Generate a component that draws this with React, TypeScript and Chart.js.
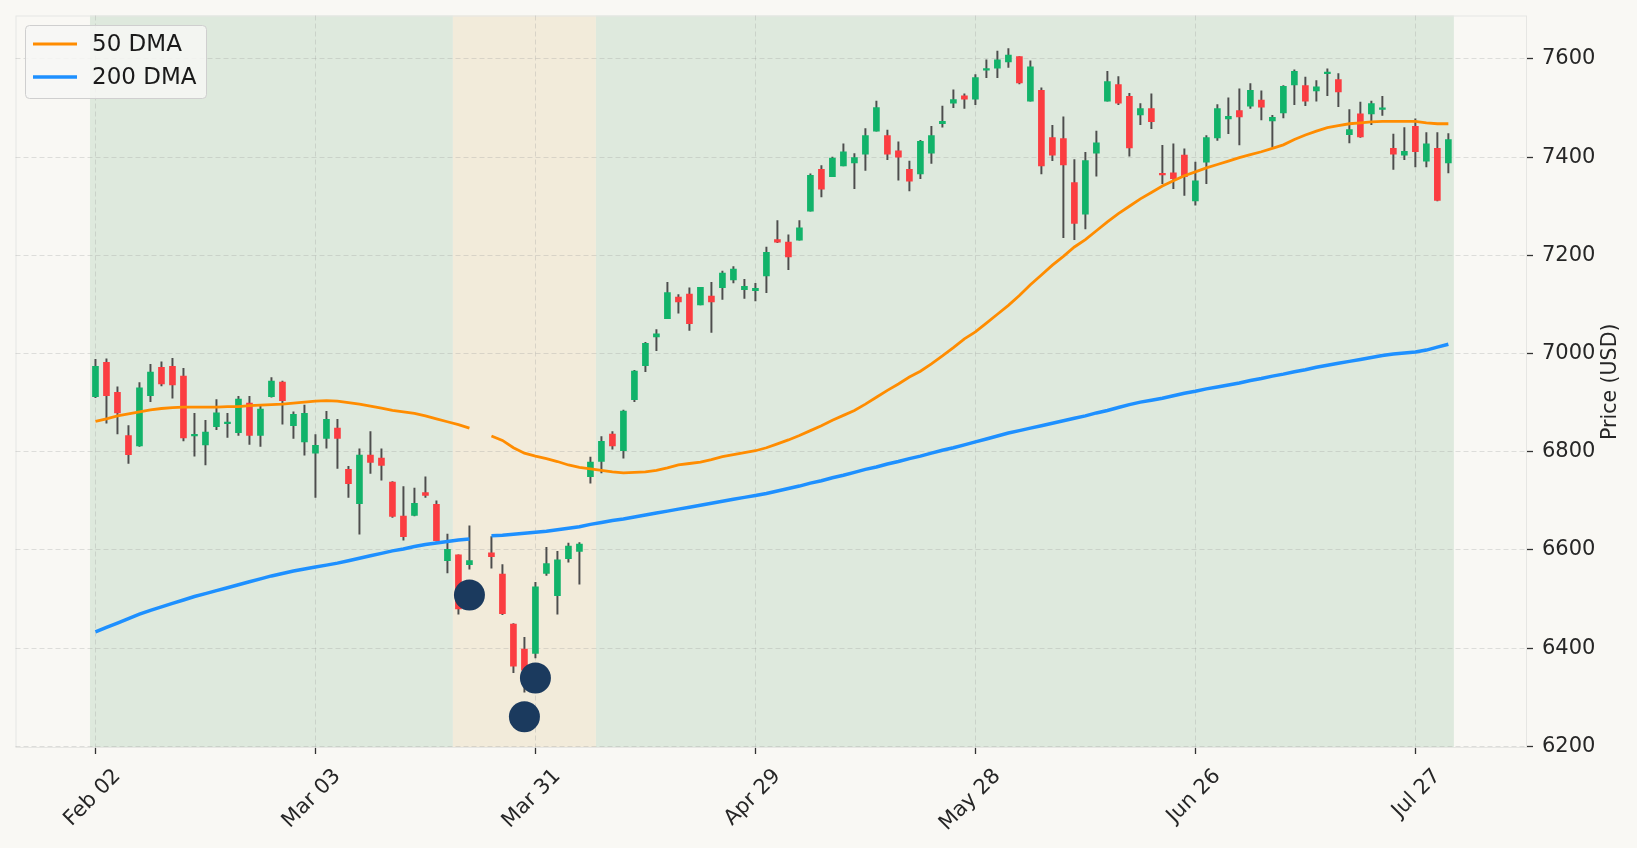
import { useEffect, useRef } from "react";
import { Chart, registerables } from "chart.js";

Chart.register(...registerables);

// trading-day index → tick label
const tickIndex = [0, 20, 40, 60, 80, 100, 120];
const tickLabels = ["Feb 02", "Mar 03", "Mar 31", "Apr 29", "May 28", "Jun 26", "Jul 27"];
const priceTicks = [6200, 6400, 6600, 6800, 7000, 7200, 7400, 7600];

// OHLC per trading day (index 35 has no data)
const opens = [
  6912, 6982, 6921, 6833, 6812, 6914, 6972, 6974, 6954, 6832,
  6814, 6851, 6857, 6839, 6899, 6833, 6912, 6942, 6853, 6820,
  6797, 6827, 6848, 6764, 6694, 6793, 6787, 6738, 6669, 6670,
  6717, 6693, 6578, 6590, 6570, null, 6594, 6551, 6449, 6398,
  6389, 6552, 6507, 6582, 6597, 6749, 6780, 6836, 6802, 6906,
  6975, 7034, 7071, 7115, 7121, 7099, 7117, 7134, 7150, 7130,
  7128, 7158, 7232, 7227, 7231, 7290, 7375, 7360, 7382, 7388,
  7406, 7453, 7444, 7413, 7375, 7366, 7408, 7468, 7510, 7525,
  7518, 7577, 7581, 7594, 7605, 7514, 7536, 7440, 7438, 7348,
  7284, 7408, 7514, 7548, 7524, 7486, 7499, 7366, 7368, 7404,
  7311, 7390, 7439, 7478, 7495, 7504, 7516, 7474, 7490, 7547,
  7546, 7535, 7570, 7558, 7446, 7488, 7488, 7497, 7418, 7404,
  7463, 7392, 7418, 7388,
];
const highs = [
  6988, 6989, 6932, 6853, 6941, 6978, 6983, 6990, 6970, 6878,
  6864, 6906, 6878, 6913, 6913, 6895, 6951, 6944, 6881, 6895,
  6835, 6882, 6866, 6770, 6806, 6841, 6806, 6739, 6729, 6726,
  6749, 6700, 6632, 6590, 6649, null, 6627, 6570, 6450, 6422,
  6534, 6605, 6597, 6614, 6615, 6789, 6831, 6841, 6885, 6966,
  7023, 7049, 7145, 7120, 7134, 7135, 7145, 7168, 7177, 7151,
  7143, 7217, 7271, 7242, 7271, 7366, 7383, 7400, 7427, 7407,
  7458, 7514, 7455, 7431, 7392, 7434, 7463, 7504, 7537, 7529,
  7568, 7598, 7616, 7621, 7605, 7596, 7541, 7465, 7482, 7395,
  7410, 7453, 7575, 7564, 7530, 7509, 7529, 7424, 7427, 7417,
  7390, 7444, 7507, 7521, 7539, 7550, 7535, 7485, 7546, 7578,
  7563, 7556, 7580, 7570, 7497, 7512, 7514, 7524, 7447, 7460,
  7478, 7450, 7450, 7448,
];
const lows = [
  6910, 6858, 6836, 6776, 6811, 6902, 6934, 6909, 6822, 6791,
  6773, 6845, 6829, 6833, 6815, 6811, 6911, 6856, 6827, 6793,
  6707, 6807, 6766, 6707, 6632, 6756, 6742, 6666, 6620, 6669,
  6707, 6618, 6553, 6469, 6561, null, 6563, 6468, 6350, 6310,
  6380, 6548, 6469, 6575, 6530, 6736, 6757, 6805, 6787, 6902,
  6963, 7006, 7071, 7082, 7047, 7099, 7043, 7110, 7144, 7112,
  7107, 7124, 7226, 7171, 7231, 7290, 7319, 7360, 7382, 7336,
  7373, 7453, 7395, 7353, 7331, 7356, 7387, 7461, 7501, 7499,
  7507, 7562, 7562, 7583, 7549, 7514, 7366, 7393, 7236, 7232,
  7254, 7361, 7514, 7507, 7402, 7466, 7458, 7346, 7336, 7322,
  7302, 7346, 7434, 7448, 7425, 7499, 7476, 7421, 7480, 7507,
  7505, 7514, 7525, 7503, 7429, 7440, 7466, 7485, 7375, 7395,
  7380, 7380, 7311, 7368,
];
const closes = [
  6974, 6914, 6879, 6794, 6930, 6962, 6938, 6936, 6828, 6833,
  6840, 6879, 6858, 6907, 6833, 6887, 6944, 6904, 6876, 6878,
  6813, 6866, 6827, 6735, 6793, 6778, 6772, 6668, 6627, 6695,
  6711, 6619, 6601, 6480, 6578, null, 6586, 6470, 6363, 6355,
  6525, 6572, 6580, 6608, 6612, 6779, 6821, 6812, 6883, 6964,
  7021, 7040, 7124, 7105, 7061, 7135, 7105, 7164, 7172, 7137,
  7133, 7206, 7227, 7197, 7256, 7363, 7335, 7398, 7411, 7399,
  7444, 7501, 7406, 7400, 7351, 7432, 7444, 7473, 7517, 7518,
  7562, 7578, 7598, 7608, 7551, 7584, 7382, 7404, 7384, 7265,
  7393, 7429, 7554, 7510, 7419, 7499, 7472, 7364, 7356, 7360,
  7352, 7440, 7499, 7483, 7482, 7536, 7502, 7481, 7544, 7575,
  7514, 7543, 7572, 7533, 7456, 7441, 7509, 7498, 7406, 7412,
  7411, 7427, 7312, 7436,
];

const dma50 = [
  6862, 6867, 6873, 6877, 6881, 6885, 6888, 6890, 6891, 6891,
  6891, 6891, 6892, 6892, 6894, 6895, 6896, 6897, 6899, 6901,
  6903, 6904, 6903, 6900, 6897, 6893, 6889, 6884, 6881, 6878,
  6873, 6867, 6861, 6855, 6848, null, 6832, 6823, 6808, 6797,
  6791, 6786, 6780, 6773, 6768, 6765, 6762, 6759, 6757, 6758,
  6759, 6762, 6767, 6773, 6776, 6779, 6784, 6790, 6794, 6798,
  6802, 6808, 6816, 6824, 6833, 6843, 6853, 6864, 6874, 6884,
  6897, 6911, 6925, 6938, 6952, 6964, 6979, 6995, 7012, 7030,
  7044, 7062, 7080, 7098, 7118, 7140, 7160, 7180, 7198, 7217,
  7232, 7250, 7268, 7285, 7300, 7315, 7328, 7341, 7352, 7362,
  7370, 7378, 7385, 7392, 7399, 7405, 7411, 7418, 7425, 7436,
  7445, 7453, 7460, 7464, 7468, 7470, 7472, 7473, 7473, 7473,
  7473, 7470, 7468, 7468,
];
const dma200 = [
  6433, 6442, 6451, 6460, 6469, 6477, 6484, 6491, 6498, 6505,
  6511, 6517, 6523, 6529, 6535, 6541, 6547, 6552, 6557, 6561,
  6565, 6569, 6573, 6578, 6583, 6588, 6593, 6598, 6602, 6607,
  6611, 6614, 6617, 6620, 6622, null, 6629, 6630, 6632, 6634,
  6636, 6638, 6641, 6644, 6647, 6652, 6656, 6660, 6663, 6667,
  6671, 6675, 6679, 6683, 6687, 6691, 6695, 6699, 6703, 6707,
  6711, 6715, 6720, 6725, 6730, 6736, 6741, 6747, 6752, 6758,
  6764, 6769, 6775, 6780, 6786, 6791, 6797, 6803, 6808, 6814,
  6820, 6826, 6832, 6838, 6843, 6848, 6853, 6858, 6863, 6868,
  6873, 6879, 6884, 6890, 6896, 6901, 6905, 6909, 6914, 6919,
  6923, 6928, 6932, 6936, 6940, 6945, 6949, 6954, 6958, 6963,
  6967, 6972, 6976, 6980, 6984, 6988, 6992, 6996, 6999, 7001,
  7003, 7007, 7013, 7019,
];

// signal markers
const markerIndex = [34, 40, 39];
const markerPrice = [6508, 6339, 6260];

// regime bands (trading-day index bounds)
const bandFrom = [-0.5, 32.5, 45.5];
const bandTo = [32.5, 45.5, 123.5];
const bandKind = ["up", "down", "up"];

const X_MIN = -7.27;
const X_MAX = 130.15;
const Y_MIN = 6196.5;
const Y_MAX = 7688.5;

const PAGE_BG = "#f9f8f4";
const BAND_COLORS: Record<string, string> = { up: "#dee9dd", down: "#f2ebda" };
const UP = "#12b36a";
const DOWN = "#fb3d41";
const FONT = "'DejaVu Sans', sans-serif";

const backdrop = {
  id: "backdrop",
  beforeDraw(chart: any) {
    const { ctx, chartArea, scales } = chart;
    ctx.save();
    ctx.fillStyle = PAGE_BG;
    ctx.fillRect(0, 0, chart.width, chart.height);
    bandFrom.forEach((from, k) => {
      const x0 = scales.x.getPixelForValue(from);
      const x1 = scales.x.getPixelForValue(bandTo[k]);
      ctx.fillStyle = BAND_COLORS[bandKind[k]];
      ctx.fillRect(x0, chartArea.top, x1 - x0, chartArea.bottom - chartArea.top);
    });
    ctx.strokeStyle = "#e6e6e3";
    ctx.lineWidth = 1;
    ctx.strokeRect(chartArea.left + 0.5, chartArea.top + 0.5, chartArea.right - chartArea.left - 1, chartArea.bottom - chartArea.top - 1);
    ctx.restore();
  },
  afterDraw(chart: any) {
    const { ctx, chartArea } = chart;
    ctx.save();
    // legend box
    const lx = 25, ly = 25, lw = 181, lh = 73;
    ctx.beginPath();
    ctx.roundRect(lx + 0.5, ly + 0.5, lw, lh, 4);
    ctx.fillStyle = "rgba(247,247,244,0.85)";
    ctx.fill();
    ctx.strokeStyle = "#cfcfcf";
    ctx.lineWidth = 1;
    ctx.stroke();
    const entries = [
      { label: "50 DMA", color: "#ff8c00", width: 2.8, y: 44 },
      { label: "200 DMA", color: "#1e90ff", width: 3.5, y: 77 },
    ];
    ctx.font = `23px ${FONT}`;
    ctx.textBaseline = "middle";
    ctx.textAlign = "left";
    entries.forEach((e) => {
      ctx.beginPath();
      ctx.moveTo(33, e.y);
      ctx.lineTo(77, e.y);
      ctx.strokeStyle = e.color;
      ctx.lineWidth = e.width;
      ctx.stroke();
      ctx.fillStyle = "#1a1a1a";
      ctx.fillText(e.label, 92, e.y + 1);
    });
    // y axis title, reading bottom to top
    ctx.translate(1611, (chartArea.top + chartArea.bottom) / 2);
    ctx.rotate(-Math.PI / 2);
    ctx.textAlign = "center";
    ctx.font = `20.5px ${FONT}`;
    ctx.fillStyle = "#262626";
    ctx.fillText("Price (USD)", 0, 0);
    ctx.restore();
  },
};

const noPad = (s: any) => {
  s.paddingTop = 0;
  s.paddingBottom = 0;
  s.paddingLeft = 0;
  s.paddingRight = 0;
};

export default function App() {
  const canvasRef = useRef<HTMLCanvasElement>(null);
  const chartRef = useRef<Chart | null>(null);

  useEffect(() => {
    if (!canvasRef.current) return;
    if (chartRef.current) chartRef.current.destroy();

    const idx = opens.map((_, i) => i).filter((i) => opens[i] !== null);
    const wicks = idx.map((i) => ({ x: i, y: [lows[i], highs[i]] }));
    const bodies = idx.map((i) => ({ x: i, y: [opens[i], closes[i]] }));
    const bodyColors = idx.map((i) => ((closes[i] as number) >= (opens[i] as number) ? UP : DOWN));
    const line50 = dma50.map((v, i) => ({ x: i, y: v }));
    const line200 = dma200.map((v, i) => ({ x: i, y: v }));
    const markers = markerIndex.map((x, k) => ({ x, y: markerPrice[k] }));

    const gridStyle = {
      color: "rgba(150,150,150,0.28)",
      lineWidth: 1,
      offset: false,
      tickColor: "#333333",
      tickLength: 6,
      tickWidth: 1.3,
      tickBorderDash: [],
    };

    chartRef.current = new Chart(canvasRef.current, {
      type: "bar",
      data: {
        datasets: [
          {
            type: "bar",
            data: wicks as any,
            backgroundColor: "#4d4d4d",
            barThickness: 1.3,
            grouped: false,
            borderWidth: 0,
            order: 4,
          },
          {
            type: "bar",
            data: bodies as any,
            backgroundColor: bodyColors,
            barThickness: 6,
            grouped: false,
            borderWidth: 0,
            borderSkipped: false,
            minBarLength: 1.6,
            order: 3,
          },
          {
            type: "line",
            data: line50 as any,
            borderColor: "#ff8c00",
            borderWidth: 2.8,
            pointRadius: 0,
            spanGaps: false,
            tension: 0,
            order: 2,
          },
          {
            type: "line",
            data: line200 as any,
            borderColor: "#1e90ff",
            borderWidth: 3.5,
            pointRadius: 0,
            spanGaps: false,
            tension: 0,
            order: 1,
          },
          {
            type: "line",
            data: markers as any,
            showLine: false,
            pointRadius: 15.5,
            pointBackgroundColor: "#1b3a5e",
            pointBorderWidth: 0,
            order: 0,
          },
        ],
      },
      options: {
        animation: false,
        responsive: false,
        events: [],
        layout: { padding: { left: 15, top: 15, right: 0, bottom: 0 } },
        plugins: { legend: { display: false }, tooltip: { enabled: false } },
        scales: {
          x: {
            type: "linear",
            min: X_MIN,
            max: X_MAX,
            offset: false,
            afterBuildTicks: (s: any) => {
              s.ticks = tickIndex.map((value) => ({ value }));
            },
            afterFit: (s: any) => {
              s.height = 100;
              noPad(s);
            },
            ticks: {
              autoSkip: false,
              minRotation: 45,
              maxRotation: 45,
              padding: 10,
              labelOffset: 22,
              color: "#262626",
              font: { family: FONT, size: 21 },
              callback: (v: any) => tickLabels[tickIndex.indexOf(Number(v))] ?? "",
            },
            grid: gridStyle,
            border: { display: false, dash: [5, 3] },
          },
          y: {
            type: "linear",
            position: "right",
            min: Y_MIN,
            max: Y_MAX,
            afterBuildTicks: (s: any) => {
              s.ticks = priceTicks.map((value) => ({ value }));
            },
            afterFit: (s: any) => {
              s.width = 110;
              noPad(s);
            },
            ticks: {
              padding: 9,
              color: "#262626",
              font: { family: FONT, size: 21 },
              callback: (v: any) => String(v),
            },
            grid: gridStyle,
            border: { display: false, dash: [5, 3] },
          },
        },
      },
      plugins: [backdrop],
    } as any);

    return () => {
      if (chartRef.current) {
        chartRef.current.destroy();
        chartRef.current = null;
      }
    };
  }, []);

  return (
    <div style={{ position: "fixed", left: 0, top: 0, width: 1637, height: 848, background: PAGE_BG }}>
      <canvas ref={canvasRef} width={1637} height={848}></canvas>
    </div>
  );
}
